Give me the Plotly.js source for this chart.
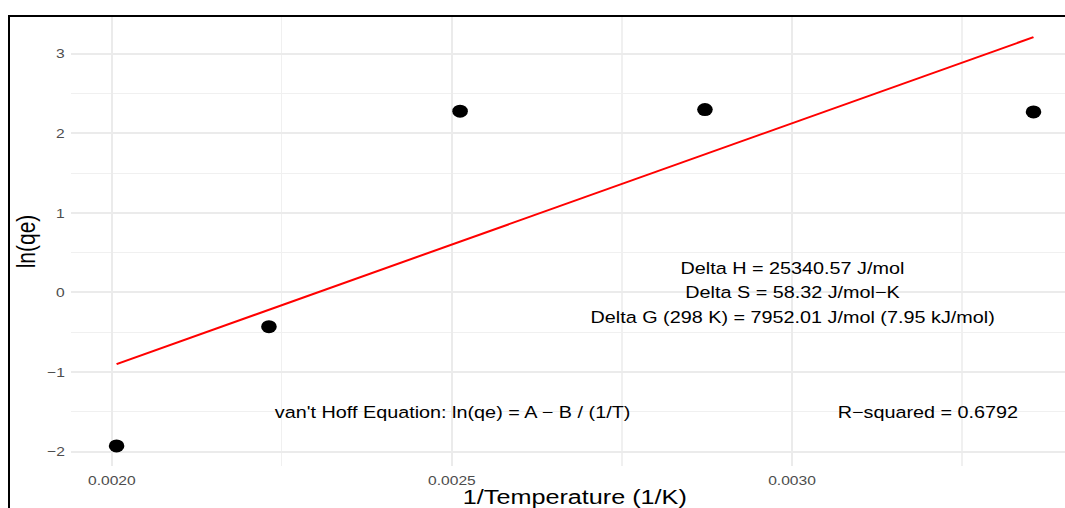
<!DOCTYPE html>
<html><head><meta charset="utf-8">
<script src="https://cdn.plot.ly/plotly-3.0.1.min.js"></script>
<style>
html,body{margin:0;padding:0;background:#fff;overflow:hidden;width:1065px;height:508px;}
#wrap{position:absolute;left:0;top:0;width:905px;height:508px;transform:scaleX(1.2);transform-origin:0 0;}
#frame{position:absolute;left:8px;top:15px;width:1200px;height:600px;border-top:2px solid #000;border-left:2px solid #000;pointer-events:none;}
</style></head><body>
<div id="wrap"><div id="chart" style="width:905px;height:508px;"></div></div>
<div id="frame"></div>
<script>
// Data
const invTemp = [0.002007, 0.002231, 0.002512, 0.002872, 0.003355];
const lnQe = [-1.93, -0.43, 2.28, 2.30, 2.27];
const fitX = [0.002007, 0.003355];
const fitY = [-0.90, 3.21];
const xTickVals = [0.0020, 0.0025, 0.0030];
const xTickText = ['0.0020', '0.0025', '0.0030'];
const yTickVals = [-2, -1, 0, 1, 2, 3];
const yTickText = ['\u22122', '\u22121', '0', '1', '2', '3'];
const thermoLines = ['Delta H = 25340.57 J/mol', 'Delta S = 58.32 J/mol\u2212K', 'Delta G (298 K) = 7952.01 J/mol (7.95 kJ/mol)'];
const thermoX = 0.0030;
const thermoY = [0.31, 0, -0.31];
const eqText = "van't Hoff Equation: ln(qe) = A \u2212 B / (1/T)";
const eqPos = [0.0025, -1.5];
const r2Text = 'R\u2212squared = 0.6792';
const r2Pos = [0.0032, -1.5];

const FONT = '"Liberation Sans", Arial, Helvetica, sans-serif';

const traces = [
  {x: invTemp, y: lnQe, type: 'scatter', mode: 'markers',
   marker: {color: '#000', size: 13}, showlegend: false, hoverinfo: 'skip'},
  {x: fitX, y: fitY, type: 'scatter', mode: 'lines',
   line: {color: '#FF0000', width: 2}, showlegend: false, hoverinfo: 'skip'}
];

const annotations = thermoLines.map((t, i) => ({
  x: thermoX, y: thermoY[i], xref: 'x', yref: 'y', text: t, showarrow: false,
  xanchor: 'center', yanchor: 'middle', font: {family: FONT, size: 16.5, color: '#000'}
}));
annotations.push({x: eqPos[0], y: eqPos[1], xref: 'x', yref: 'y', text: eqText, showarrow: false,
  xanchor: 'center', yanchor: 'middle', font: {family: FONT, size: 16.5, color: '#000'}});
annotations.push({x: r2Pos[0], y: r2Pos[1], xref: 'x', yref: 'y', text: r2Text, showarrow: false,
  xanchor: 'center', yanchor: 'middle', font: {family: FONT, size: 16.5, color: '#000'}});

const layout = {
  width: 905, height: 508,
  margin: {l: 59, r: 6, t: 17, b: 42},
  paper_bgcolor: '#fff', plot_bgcolor: '#fff',
  font: {family: FONT},
  xaxis: {
    range: [0.0019397, 0.0034216], tickvals: xTickVals, ticktext: xTickText,
    showgrid: true, gridcolor: '#EBEBEB', gridwidth: 2, zeroline: false, showline: false, ticks: '',
    ticklabelstandoff: 5,
    minor: {dtick: 0.00025, tick0: 0.002, showgrid: true, gridcolor: '#F0F0F0', gridwidth: 1},
    tickfont: {family: FONT, size: 13, color: '#4D4D4D'},
    title: {text: '1/Temperature (1/K)', font: {family: FONT, size: 21, color: '#000'}, standoff: 2},
    fixedrange: true
  },
  yaxis: {
    range: [-2.182, 3.464], tickvals: yTickVals, ticktext: yTickText,
    showgrid: true, gridcolor: '#EBEBEB', gridwidth: 2, zeroline: false, showline: false, ticks: '',
    ticklabelstandoff: 4,
    minor: {dtick: 0.5, tick0: 0, showgrid: true, gridcolor: '#F0F0F0', gridwidth: 1},
    tickfont: {family: FONT, size: 13, color: '#4D4D4D'},
    title: {text: 'ln(qe)', font: {family: FONT, size: 21, color: '#000'}, standoff: 3},
    fixedrange: true
  },
  annotations: annotations
};

Plotly.newPlot('chart', traces, layout, {displayModeBar: false, staticPlot: true});
</script>
</body></html>
